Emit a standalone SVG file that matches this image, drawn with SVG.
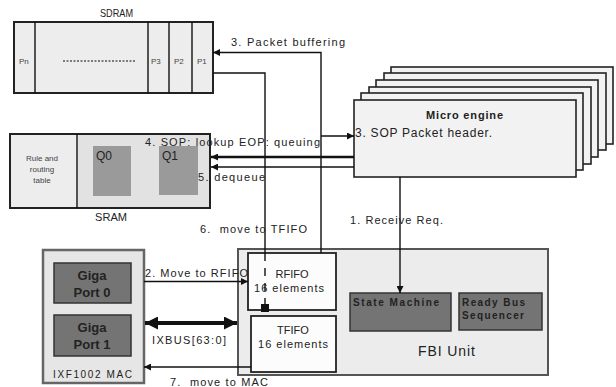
<svg xmlns="http://www.w3.org/2000/svg" width="616" height="387" viewBox="0 0 616 387">
<style>
text{font-family:"Liberation Sans",Arial,sans-serif;fill:#222}
.lbl{font-size:11px}
.small{font-size:8px;fill:#444}
.box{fill:#ededed;stroke:#222;stroke-width:2}
.me{fill:#f2f2f2;stroke:#222;stroke-width:1.6}
.ln{fill:none;stroke:#111;stroke-width:1.4}
.thk{fill:none;stroke:#111;stroke-width:2.6}
.dark{fill:#747474;stroke:#333;stroke-width:1.5}
.q{fill:#9a9a9a;stroke:none}
.white{fill:#fcfcfc;stroke:#222;stroke-width:1.8}
</style>
<defs>
<marker id="ah" viewBox="0 0 10 10" refX="10" refY="5" markerWidth="7" markerHeight="7" markerUnits="userSpaceOnUse" orient="auto"><path d="M0,0L10,5L0,10z" fill="#111"/></marker>
<marker id="ahb" viewBox="0 0 10 10" refX="10" refY="5" markerWidth="14" markerHeight="13" markerUnits="userSpaceOnUse" orient="auto-start-reverse"><path d="M0,0L10,5L0,10z" fill="#111"/></marker>
<marker id="sq" viewBox="0 0 10 10" refX="10" refY="5" markerWidth="8" markerHeight="8" markerUnits="userSpaceOnUse" orient="auto"><path d="M0,0L10,0L10,10L0,10z" fill="#111"/></marker>
</defs>

<g id="sdram">
<rect class="box" x="14" y="22" width="199" height="71"/>
<line class="ln" x1="35" y1="22" x2="35" y2="93" stroke-width="2"/>
<line class="ln" x1="148" y1="22" x2="148" y2="93" stroke-width="2"/>
<line class="ln" x1="169" y1="22" x2="169" y2="93" stroke-width="2"/>
<line class="ln" x1="192" y1="22" x2="192" y2="93" stroke-width="2"/>
<line x1="63" y1="61" x2="135" y2="61" stroke="#555" stroke-width="1.5" stroke-dasharray="2,1.5"/>
<text class="small" x="19" y="64">Pn</text>
<text class="small" x="151" y="64">P3</text>
<text class="small" x="174" y="64">P2</text>
<text class="small" x="197" y="64">P1</text>
<text class="lbl" x="100" y="17" textLength="33" lengthAdjust="spacingAndGlyphs">SDRAM</text>
</g>

<g id="sram">
<rect class="box" x="10" y="134" width="200" height="74"/>
<rect x="78" y="135" width="131" height="72" fill="#e2e2e2"/>
<line class="ln" x1="77" y1="134" x2="77" y2="208" stroke-width="2"/>
<rect class="q" x="93" y="146" width="38" height="50"/>
<rect class="q" x="159" y="146" width="39" height="49"/>
<text x="96" y="160" font-size="12">Q0</text>
<text x="162" y="160" font-size="12">Q1</text>
<text class="small" x="42" y="161" text-anchor="middle">Rule and</text>
<text class="small" x="42" y="172" text-anchor="middle">routing</text>
<text class="small" x="42" y="183" text-anchor="middle">table</text>
<text class="lbl" x="95" y="221" textLength="32" lengthAdjust="spacingAndGlyphs">SRAM</text>
</g>

<g id="microengine">
<rect class="me" x="391" y="67" width="222" height="77"/>
<rect class="me" x="384" y="73" width="222" height="77"/>
<rect class="me" x="376" y="80" width="222" height="77"/>
<rect class="me" x="369" y="87" width="222" height="77"/>
<rect class="me" x="361" y="93" width="222" height="77"/>
<rect class="me" x="354" y="100" width="222" height="77"/>
<text x="426" y="119" font-size="11" font-weight="bold" textLength="77" lengthAdjust="spacing">Micro engine</text>
<text x="355" y="137" font-size="12" textLength="137" lengthAdjust="spacing">3. SOP Packet header.</text>
</g>

<g id="mac">
<rect x="43" y="250" width="101" height="133" fill="#e6e6e6" stroke="#666" stroke-width="2.5"/>
<rect class="dark" x="54" y="263" width="77" height="40"/>
<rect class="dark" x="54" y="315" width="77" height="41"/>
<text x="92" y="280" text-anchor="middle" font-size="13" font-weight="bold" fill="#111">Giga</text>
<text x="92" y="297" text-anchor="middle" font-size="13" font-weight="bold" fill="#111">Port 0</text>
<text x="92" y="332" text-anchor="middle" font-size="13" font-weight="bold" fill="#111">Giga</text>
<text x="92" y="349" text-anchor="middle" font-size="13" font-weight="bold" fill="#111">Port 1</text>
<text x="53" y="378" font-size="10" textLength="79" lengthAdjust="spacing">IXF1002 MAC</text>
</g>

<g id="fbi">
<rect x="238" y="249" width="310" height="126" fill="#ececec" stroke="#555" stroke-width="2"/>
<text x="418" y="356" font-size="14" textLength="57" lengthAdjust="spacing">FBI Unit</text>
</g>

<g id="rfifo">
<rect class="white" x="248" y="253" width="88" height="57"/>
<text x="292" y="278" text-anchor="middle" font-size="11">RFIFO</text>
<text x="254" y="292" font-size="11" textLength="70" lengthAdjust="spacing">16 elements</text>
</g>

<g id="tfifo">
<rect class="white" x="251" y="316" width="85" height="56"/>
<text x="293" y="334" text-anchor="middle" font-size="11">TFIFO</text>
<text x="258" y="348" font-size="11" textLength="70" lengthAdjust="spacing">16 elements</text>
</g>

<g id="statemachine">
<rect class="dark" x="350" y="293" width="101" height="38" fill="#6e6e6e"/>
<text x="353" y="306" font-size="10" font-weight="bold" fill="#111" textLength="86" lengthAdjust="spacing">State Machine</text>
</g>

<g id="readybus">
<rect class="dark" x="459" y="293" width="83" height="37" fill="#6e6e6e"/>
<text x="462" y="306" font-size="10" font-weight="bold" fill="#111" textLength="63" lengthAdjust="spacing">Ready Bus</text>
<text x="462" y="319" font-size="10" font-weight="bold" fill="#111" textLength="62" lengthAdjust="spacing">Sequencer</text>
</g>

<g id="connectors">
<!-- 3. Packet buffering: RFIFO -> SDRAM P1 -->
<path class="ln" d="M321,253V52.5H213" marker-end="url(#ah)"/>
<text class="lbl" x="231" y="46" textLength="114" lengthAdjust="spacing">3. Packet buffering</text>
<!-- 6. move to TFIFO: SDRAM -> TFIFO -->
<path class="ln" d="M213,73H265V253"/>
<path class="ln" d="M265,253V312" stroke-dasharray="8,7" marker-end="url(#sq)"/>
<text class="lbl" x="200" y="233" xml:space="preserve" textLength="107" lengthAdjust="spacing">6.  move to TFIFO</text>
<!-- packet header to micro engine -->
<path class="ln" d="M321,136H354" marker-end="url(#ah)"/>
<text class="lbl" x="145" y="146" textLength="175" lengthAdjust="spacing">4. SOP: lookup EOP: queuing</text>
<!-- micro engine -> SRAM -->
<path class="thk" d="M354,157H211" marker-end="url(#ah)"/>
<path class="ln" d="M354,167H211" stroke-width="1.8" marker-end="url(#ah)"/>
<text class="lbl" x="198" y="181" textLength="67" lengthAdjust="spacing">5. dequeue</text>
<!-- 1. Receive Req. -->
<path class="ln" d="M400,177V293" marker-end="url(#ah)"/>
<text class="lbl" x="350" y="224" textLength="93" lengthAdjust="spacing">1. Receive Req.</text>
<!-- 2. Move to RFIFO -->
<path class="ln" d="M144,281.5H248" marker-end="url(#ah)"/>
<text class="lbl" x="145" y="277" textLength="103" lengthAdjust="spacing">2. Move to RFIFO</text>
<!-- IXBUS -->
<path d="M145,323H237" stroke="#111" stroke-width="4" fill="none" marker-start="url(#ahb)" marker-end="url(#ahb)"/>
<text class="lbl" x="152" y="344" textLength="74" lengthAdjust="spacing">IXBUS[63:0]</text>
<!-- 7. move to MAC -->
<path class="ln" d="M251,367H144" marker-end="url(#ah)"/>
<text class="lbl" x="170" y="386" xml:space="preserve" textLength="98" lengthAdjust="spacing">7.  move to MAC</text>
</g>
</svg>
